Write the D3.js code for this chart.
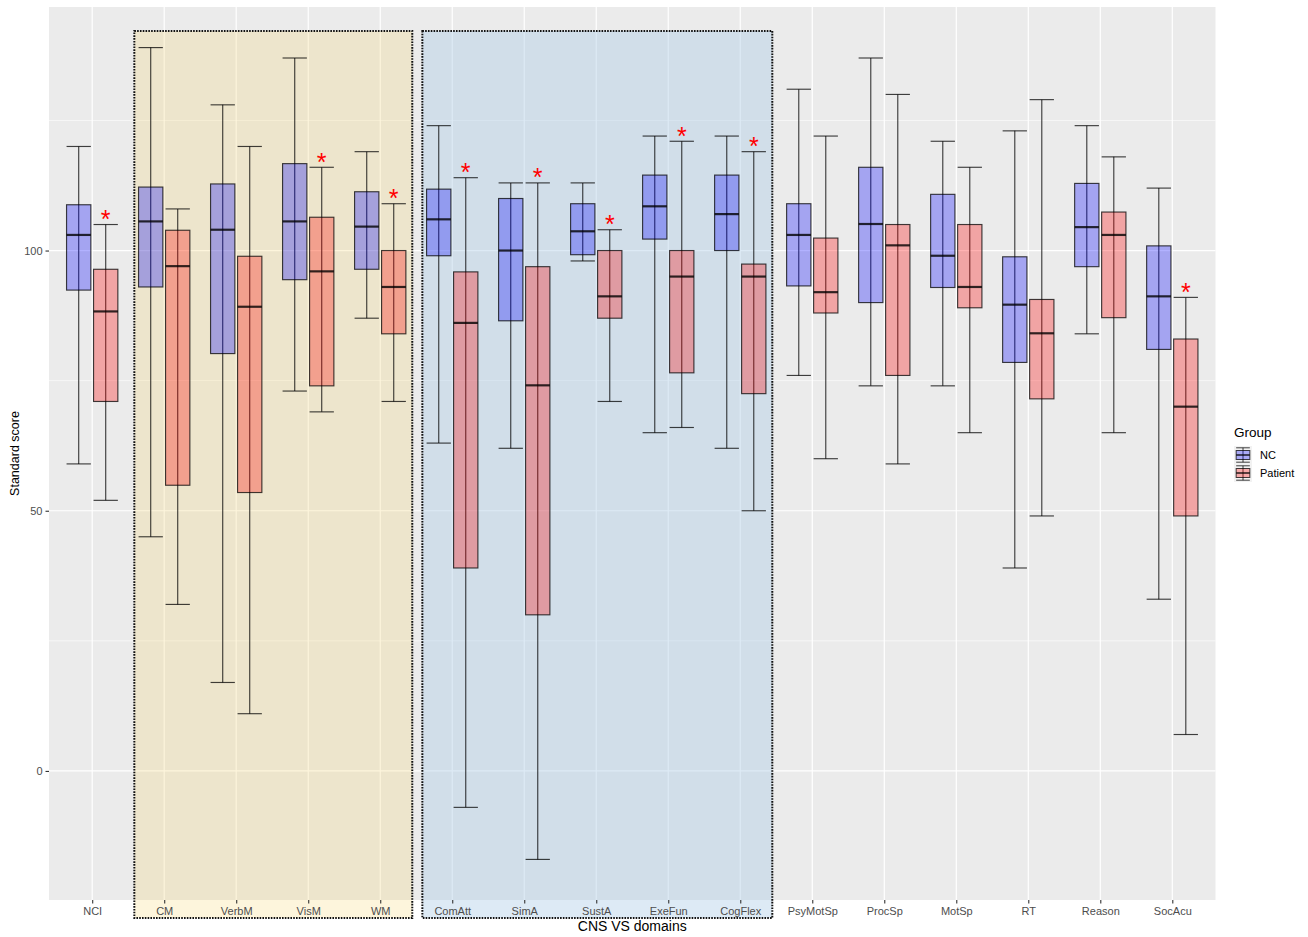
<!DOCTYPE html>
<html>
<head>
<meta charset="utf-8">
<script src="https://cdn.jsdelivr.net/npm/d3@7"></script>
<style>
  html, body { margin: 0; padding: 0; background: #ffffff; }
  svg { display: block; font-family: "Liberation Sans", Arial, Helvetica, sans-serif; }
</style>
</head>
<body>
<svg id="chart" width="1308" height="937"></svg>
<script>
// ---- data ---------------------------------------------------------------
const categories = ["NCI", "CM", "VerbM", "VisM", "WM", "ComAtt", "SimA", "SustA",
  "ExeFun", "CogFlex", "PsyMotSp", "ProcSp", "MotSp", "RT", "Reason", "SocAcu"];
const groups = ["NC", "Patient"];

// NC group: whisker low, Q1, median, Q3, whisker high
const ncLower  = [59, 45, 17, 73, 87, 63, 62, 98, 65, 62, 76, 74, 74, 39, 84, 33];
const ncQ1     = [92.4, 93, 80.2, 94.4, 96.4, 99, 86.5, 99.2, 102.2, 100, 93.2, 90, 92.9, 78.5, 96.9, 81];
const ncMedian = [103, 105.6, 104, 105.6, 104.6, 106, 100, 103.7, 108.5, 107, 103, 105.1, 99, 89.6, 104.5, 91.2];
const ncQ3     = [108.8, 112.2, 112.8, 116.7, 111.3, 111.8, 110, 109, 114.5, 114.5, 109, 116, 110.8, 98.8, 112.9, 100.9];
const ncUpper  = [120, 139, 128, 137, 119, 124, 113, 113, 122, 122, 131, 137, 121, 123, 124, 112];

// Patient group
const ptLower  = [52, 32, 11, 69, 71, -7, -17, 71, 66, 50, 60, 59, 65, 49, 65, 7];
const ptQ1     = [71, 54.9, 53.5, 74, 84, 39, 30, 87, 76.5, 72.5, 88, 76, 89, 71.5, 87.1, 49];
const ptMedian = [88.3, 97, 89.2, 96, 93, 86.1, 74.1, 91.2, 95, 95, 92, 101, 93, 84.1, 103, 70];
const ptQ3     = [96.4, 103.9, 98.9, 106.4, 100, 95.9, 96.9, 100, 100, 97.4, 102.4, 105, 105, 90.6, 107.4, 83];
const ptUpper  = [105, 108, 120, 116, 109, 114, 113, 104, 121, 119, 122, 130, 116, 129, 118, 91];

// domains with a significant group difference (marked with an asterisk)
const significant = ["NCI", "VisM", "WM", "ComAtt", "SimA", "SustA", "ExeFun", "CogFlex", "SocAcu"];

// highlighted domain groups: first and last category of each block
const regionFirst = ["CM", "ComAtt"];
const regionLast  = ["WM", "CogFlex"];

const yTicks = [0, 50, 100];
const yMinorTicks = [25, 75, 125];

// ---- layout -------------------------------------------------------------
const panel = { left: 49, right: 1215.5, top: 7, bottom: 900 };
const fills = { NC: "rgba(0,0,255,0.3)", Patient: "rgba(255,0,0,0.3)" };
const regionFills = [
  { color: "rgb(245,205,80)", opacity: 0.2 },
  { color: "rgb(170,202,230)", opacity: 0.4 }
];
const lineColor = "rgba(0,0,0,0.74)";

const svg = d3.select("#chart");

// rows for both groups
const rows = [];
categories.forEach((c, i) => {
  rows.push({ cat: c, group: "NC", lower: ncLower[i], q1: ncQ1[i], median: ncMedian[i], q3: ncQ3[i], upper: ncUpper[i] });
  rows.push({ cat: c, group: "Patient", lower: ptLower[i], q1: ptQ1[i], median: ptMedian[i], q3: ptQ3[i], upper: ptUpper[i] });
});

// scales
const x = d3.scalePoint().domain(categories).range([panel.left, panel.right]).padding(0.6);
const step = x.step();
const [ymin, ymax] = d3.extent(rows.flatMap(r => [r.lower, r.upper]));
const pad = (ymax - ymin) * 0.05;
const y = d3.scaleLinear().domain([ymin - pad, ymax + pad]).range([panel.bottom, panel.top]);

const dodge = d3.scaleBand().domain(groups).range([-step * 0.375, step * 0.375]);
const boxW = step * 0.3375;
const cx = r => x(r.cat) + dodge(r.group) + dodge.bandwidth() / 2;

// panel background and grid
svg.append("rect")
  .attr("x", panel.left).attr("y", panel.top)
  .attr("width", panel.right - panel.left).attr("height", panel.bottom - panel.top)
  .attr("fill", "#EBEBEB");

const grid = svg.append("g");
grid.selectAll("line.minor").data(yMinorTicks).join("line")
  .attr("x1", panel.left).attr("x2", panel.right)
  .attr("y1", d => y(d)).attr("y2", d => y(d))
  .attr("stroke", "#ffffff").attr("stroke-width", 0.6);
grid.selectAll("line.majy").data(yTicks).join("line")
  .attr("x1", panel.left).attr("x2", panel.right)
  .attr("y1", d => y(d)).attr("y2", d => y(d))
  .attr("stroke", "#ffffff").attr("stroke-width", 1.2);
grid.selectAll("line.majx").data(categories).join("line")
  .attr("x1", d => x(d)).attr("x2", d => x(d))
  .attr("y1", panel.top).attr("y2", panel.bottom)
  .attr("stroke", "#ffffff").attr("stroke-width", 1.2);

// highlighted blocks of domains
const regions = regionFirst.map((f, i) => ({ first: f, last: regionLast[i], style: regionFills[i] }));
const regionBox = rg => ({
  x0: x(rg.first) - step * 0.415,
  x1: x(rg.last) + step * 0.445,
  y0: panel.top + 24,
  y1: panel.bottom + 18
});
const regionG = svg.append("g");
regions.forEach(rg => {
  const b = regionBox(rg);
  regionG.append("rect")
    .attr("x", b.x0).attr("y", b.y0).attr("width", b.x1 - b.x0).attr("height", b.y1 - b.y0)
    .attr("fill", rg.style.color).attr("fill-opacity", rg.style.opacity);
});

// whiskers (error bars)
const wg = svg.append("g");
wg.selectAll("line.stem").data(rows).join("line")
  .attr("x1", cx).attr("x2", cx)
  .attr("y1", r => y(r.lower)).attr("y2", r => y(r.upper))
  .attr("stroke", lineColor).attr("stroke-width", 1.15);
wg.selectAll("line.capTop").data(rows).join("line")
  .attr("x1", r => cx(r) - boxW / 2).attr("x2", r => cx(r) + boxW / 2)
  .attr("y1", r => y(r.upper)).attr("y2", r => y(r.upper))
  .attr("stroke", lineColor).attr("stroke-width", 1.15);
wg.selectAll("line.capBot").data(rows).join("line")
  .attr("x1", r => cx(r) - boxW / 2).attr("x2", r => cx(r) + boxW / 2)
  .attr("y1", r => y(r.lower)).attr("y2", r => y(r.lower))
  .attr("stroke", lineColor).attr("stroke-width", 1.15);

// boxes
const bg = svg.append("g");
bg.selectAll("rect").data(rows).join("rect")
  .attr("x", r => cx(r) - boxW / 2).attr("width", boxW)
  .attr("y", r => y(r.q3)).attr("height", r => y(r.q1) - y(r.q3))
  .attr("fill", r => fills[r.group])
  .attr("stroke", lineColor).attr("stroke-width", 1.15);
bg.selectAll("line.median").data(rows).join("line")
  .attr("x1", r => cx(r) - boxW / 2).attr("x2", r => cx(r) + boxW / 2)
  .attr("y1", r => y(r.median)).attr("y2", r => y(r.median))
  .attr("stroke", "rgba(0,0,0,0.8)").attr("stroke-width", 2.2);

// significance asterisks above the patient whiskers
const sigRows = rows.filter(r => r.group === "Patient" && significant.includes(r.cat));
svg.append("g").selectAll("text").data(sigRows).join("text")
  .attr("x", cx).attr("y", r => y(r.upper) + 3.5)
  .attr("text-anchor", "middle")
  .attr("font-size", 25).attr("fill", "#FF0000")
  .text("*");

// dotted outlines of the highlighted blocks
regions.forEach(rg => {
  const b = regionBox(rg);
  svg.append("rect")
    .attr("x", b.x0).attr("y", b.y0).attr("width", b.x1 - b.x0).attr("height", b.y1 - b.y0)
    .attr("fill", "none").attr("stroke", "#111").attr("stroke-width", 2)
    .attr("stroke-dasharray", "1.6 1.2");
});

// y axis
const yAxis = svg.append("g").attr("transform", `translate(${panel.left},0)`)
  .call(d3.axisLeft(y).tickValues(yTicks).tickSize(3.5).tickPadding(3));
yAxis.select(".domain").remove();
yAxis.selectAll("line").attr("stroke", "#333333").attr("stroke-width", 1.1);
yAxis.selectAll("text").attr("fill", "#4D4D4D").attr("font-size", 11)
  .attr("font-family", "Liberation Sans, Arial, sans-serif");

// x axis
const xAxis = svg.append("g").attr("transform", `translate(0,${panel.bottom})`)
  .call(d3.axisBottom(x).tickSize(3.5).tickPadding(4));
xAxis.select(".domain").remove();
xAxis.selectAll("line").attr("stroke", "#333333").attr("stroke-width", 1.1);
xAxis.selectAll("text").attr("fill", "#4D4D4D").attr("font-size", 11)
  .attr("font-family", "Liberation Sans, Arial, sans-serif");

// axis titles
svg.append("text")
  .attr("x", (panel.left + panel.right) / 2).attr("y", 931)
  .attr("text-anchor", "middle").attr("font-size", 14).attr("fill", "#000")
  .text("CNS VS domains");
svg.append("text")
  .attr("transform", `translate(19,${(panel.top + panel.bottom) / 2}) rotate(-90)`)
  .attr("text-anchor", "middle").attr("font-size", 12.5).attr("fill", "#000")
  .text("Standard score");

// legend
const legend = svg.append("g").attr("transform", "translate(1234,0)");
legend.append("text").attr("x", 0).attr("y", 437).attr("font-size", 13.5).attr("fill", "#000").text("Group");
const keySize = 18;
groups.forEach((g, i) => {
  const ky = 446 + i * keySize;
  const k = legend.append("g").attr("transform", `translate(0,${ky})`);
  k.append("rect").attr("width", keySize).attr("height", keySize).attr("fill", "#F2F2F2");
  k.append("line").attr("x1", keySize / 2).attr("x2", keySize / 2)
    .attr("y1", keySize * 0.1).attr("y2", keySize * 0.9)
    .attr("stroke", lineColor).attr("stroke-width", 1);
  k.append("line").attr("x1", keySize * 0.12).attr("x2", keySize * 0.88)
    .attr("y1", keySize * 0.1).attr("y2", keySize * 0.1)
    .attr("stroke", lineColor).attr("stroke-width", 1);
  k.append("line").attr("x1", keySize * 0.12).attr("x2", keySize * 0.88)
    .attr("y1", keySize * 0.9).attr("y2", keySize * 0.9)
    .attr("stroke", lineColor).attr("stroke-width", 1);
  k.append("rect").attr("x", keySize * 0.12).attr("y", keySize * 0.25)
    .attr("width", keySize * 0.76).attr("height", keySize * 0.5)
    .attr("fill", fills[g]).attr("stroke", lineColor).attr("stroke-width", 1);
  k.append("line").attr("x1", keySize * 0.12).attr("x2", keySize * 0.88)
    .attr("y1", keySize / 2).attr("y2", keySize / 2)
    .attr("stroke", "rgba(0,0,0,0.8)").attr("stroke-width", 1.6);
  legend.append("text").attr("x", keySize + 8).attr("y", ky + keySize / 2 + 4)
    .attr("font-size", 11).attr("fill", "#000").text(g);
});
</script>
</body>
</html>
